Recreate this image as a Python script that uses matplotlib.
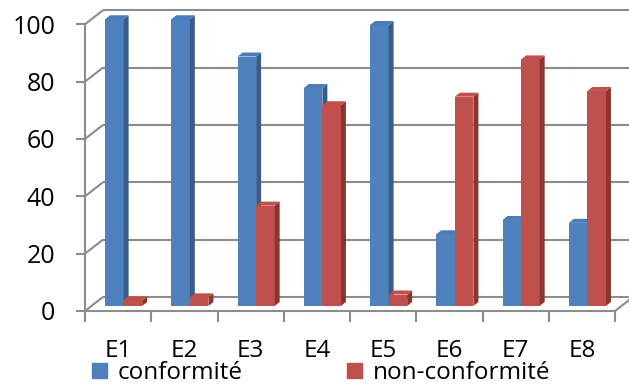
import matplotlib.pyplot as plt
from matplotlib.patches import Polygon, Patch

plt.rcParams['font.family'] = ['Open Sans', 'DejaVu Sans']

categories = ['E1', 'E2', 'E3', 'E4', 'E5', 'E6', 'E7', 'E8']
conformite = [100, 100, 87, 76, 98, 25, 30, 29]
non_conformite = [2, 3, 35, 70, 4, 73, 86, 75]
y_ticks = [0, 20, 40, 60, 80, 100]
series_names = ['conformité', 'non-conformité']

blue, blue_side, blue_top = '#4f81bd', '#385d8a', '#4a7cbd'
red, red_side, red_top = '#c0504d', '#8b3432', '#c14f4c'
grid_col = '#8c8c8c'

# fake 3d: back wall offset, bar front offset, bar depth (data units)
back_dx, back_dy = 0.272, 4.9
front_dx, front_dy = 0.083, 1.75
depth_dx, depth_dy = 0.075, 1.4
w = 0.28

fig = plt.figure(figsize=(6.29, 3.85), dpi=100)
ax = fig.add_axes([0, 0, 1, 1])
ax.set_xlim(-1.283, 8.211)
ax.set_ylim(-25.81, 108.47)

n = len(categories)

# walls and gridlines
for v in y_ticks:
    ax.plot([0, back_dx], [v, v + back_dy], color=grid_col, lw=1.5, zorder=1,
            solid_capstyle='butt')
    ax.plot([back_dx, n + back_dx], [v + back_dy, v + back_dy], color=grid_col,
            lw=1.5, zorder=1, solid_capstyle='butt')
ax.plot([n, n + back_dx], [0, back_dy], color=grid_col, lw=1.5, zorder=1)


def draw_bars(xc, vals, face, side, top, z):
    left = [x - w / 2 for x in xc]
    ax.bar(xc, vals, width=w, bottom=front_dy, color=face, zorder=z)
    for l, v in zip(left, vals):
        r = l + w
        b = front_dy
        t = front_dy + v
        ax.add_patch(Polygon([(r, b), (r + depth_dx, b + depth_dy),
                              (r + depth_dx, t + depth_dy), (r, t)],
                             closed=True, color=side, zorder=z + 1, lw=0))
        ax.add_patch(Polygon([(l, t), (l + depth_dx, t + depth_dy),
                              (r + depth_dx, t + depth_dy), (r, t)],
                             closed=True, color=top, zorder=z + 1, lw=0))


x_blue = [i + 0.5 + front_dx - w / 2 for i in range(n)]
x_red = [i + 0.5 + front_dx + w / 2 for i in range(n)]
draw_bars(x_blue, conformite, blue, blue_side, blue_top, 3)
draw_bars(x_red, non_conformite, red, red_side, red_top, 5)

# front axes
for s in ['top', 'right']:
    ax.spines[s].set_visible(False)
ax.spines['left'].set_position(('data', 0))
ax.spines['bottom'].set_position(('data', 0))
ax.spines['left'].set_bounds(0, 100)
ax.spines['bottom'].set_bounds(0, n)
for s in ['left', 'bottom']:
    ax.spines[s].set_color(grid_col)
    ax.spines[s].set_linewidth(1.5)

ax.set_yticks(y_ticks)
ax.set_yticklabels([str(v) for v in y_ticks])
ax.tick_params(axis='y', direction='out', length=6.5, width=1.5, color=grid_col,
               pad=15, labelsize=18, labelcolor='black')

ax.set_xticks(range(n + 1))
ax.set_xticklabels([])
ax.set_xticks([i + 0.5 for i in range(n)], minor=True)
ax.set_xticklabels(categories, minor=True)
ax.tick_params(axis='x', which='major', direction='out', length=8, width=1.5,
               color=grid_col)
ax.tick_params(axis='x', which='minor', length=0, pad=20, labelsize=17.5,
               labelcolor='black')

handles = [Patch(color=blue, label=series_names[0]),
           Patch(color=red, label=series_names[1])]
fig.legend(handles=handles, loc='lower left', bbox_to_anchor=(0.146, 0.0),
           ncol=2, frameon=False, fontsize=17.5, handlelength=0.62,
           handleheight=0.62, handletextpad=0.45, columnspacing=4.3,
           borderpad=0, borderaxespad=0)

fig.savefig('out.png', dpi=100)
